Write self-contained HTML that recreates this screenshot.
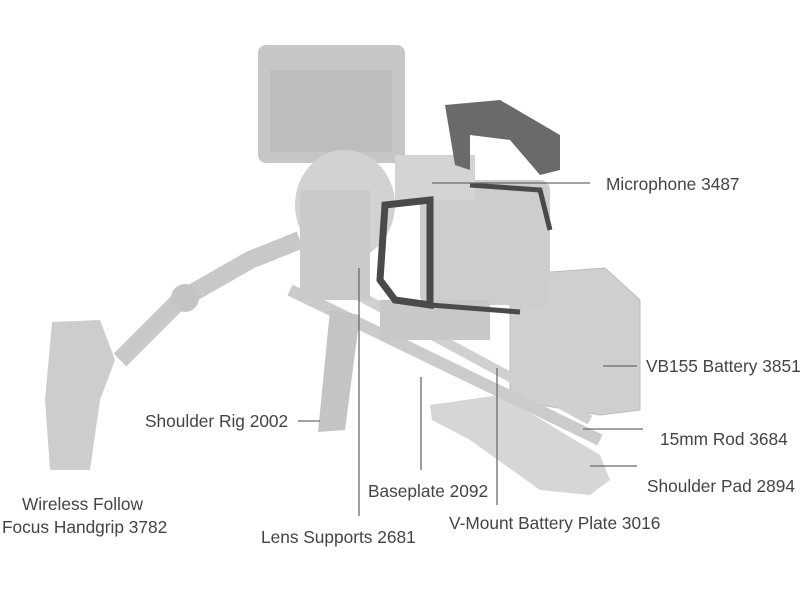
<!DOCTYPE html>
<html><head><meta charset="utf-8"><style>
body{margin:0;background:#fff;width:800px;height:600px;overflow:hidden;position:relative;font-family:"Liberation Sans",sans-serif}
.t{position:absolute;font-size:17.3px;color:#444;white-space:nowrap;line-height:20px}
svg{position:absolute;left:0;top:0}
</style></head><body>
<svg width="800" height="600">
<path d="M430,405 L500,395 L600,455 L610,480 L590,495 L540,490 L470,440 L432,420Z" fill="#d6d6d6"/>
<path d="M510,275 L605,268 L640,300 L640,410 L600,415 L510,400Z" fill="#cfcfcf" stroke="#bcbcbc"/>
<path d="M290,290 L600,440" stroke="#cbcbcb" stroke-width="12"/>
<path d="M330,280 L590,420" stroke="#d0d0d0" stroke-width="10"/>
<path d="M120,360 L180,300 L250,260 L300,240" stroke="#c8c8c8" stroke-width="18" fill="none"/>
<circle cx="185" cy="298" r="14" fill="#c4c4c4"/>
<path d="M52,322 L100,320 L115,360 L100,400 L90,470 L50,470 L45,400Z" fill="#cdcdcd"/>
<path d="M330,310 L360,315 L345,430 L318,432Z" fill="#c4c4c4"/>
<rect x="258" y="45" width="147" height="118" rx="8" fill="#c6c6c6"/>
<rect x="270" y="70" width="122" height="82" fill="#bdbdbd"/>
<ellipse cx="345" cy="205" rx="50" ry="55" fill="#d2d2d2"/>
<rect x="300" y="190" width="70" height="110" fill="#cacaca"/>
<rect x="420" y="180" width="130" height="125" rx="10" fill="#cdcdcd"/>
<rect x="395" y="155" width="80" height="45" fill="#d4d4d4"/>
<rect x="380" y="300" width="110" height="40" fill="#c8c8c8"/>
<path d="M385,205 L430,200 L430,305 L395,300 L380,280Z" fill="none" stroke="#4a4a4a" stroke-width="7"/>
<path d="M430,305 L520,312 M470,185 L540,190 L550,230" fill="none" stroke="#4a4a4a" stroke-width="5"/>
<path d="M445,105 L500,100 L560,135 L560,170 L540,175 L510,140 L470,135 L470,170 L455,165Z" fill="#6a6a6a"/>
<g stroke="#6a6a6a" stroke-width="1.3">
<line x1="432" y1="183" x2="590" y2="183"/>
<line x1="603" y1="366" x2="637" y2="366"/>
<line x1="583" y1="429" x2="643" y2="429"/>
<line x1="590" y1="466" x2="637" y2="466"/>
<line x1="298" y1="421" x2="320" y2="421"/>
<line x1="421" y1="377" x2="421" y2="470"/>
<line x1="359" y1="268" x2="359" y2="516"/>
<line x1="497" y1="368" x2="497" y2="505"/>
</g>
</svg>
<div class="t" style="left:606px;top:174px">Microphone 3487</div>
<div class="t" style="left:646px;top:356px">VB155 Battery 3851</div>
<div class="t" style="left:660px;top:429px">15mm Rod 3684</div>
<div class="t" style="left:647px;top:476px">Shoulder Pad 2894</div>
<div class="t" style="left:145px;top:411px">Shoulder Rig 2002</div>
<div class="t" style="left:22px;top:494px">Wireless Follow</div>
<div class="t" style="left:2px;top:517px">Focus Handgrip 3782</div>
<div class="t" style="left:368px;top:481px">Baseplate 2092</div>
<div class="t" style="left:449px;top:513px">V-Mount Battery Plate 3016</div>
<div class="t" style="left:261px;top:527px">Lens Supports 2681</div>
</body></html>
